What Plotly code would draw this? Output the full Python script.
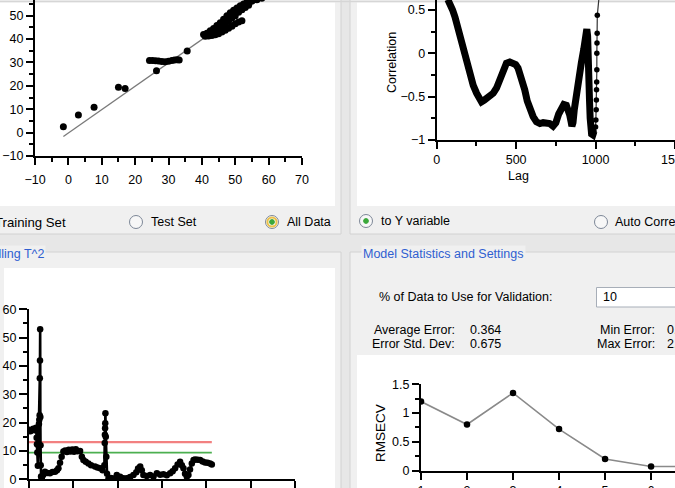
import plotly.graph_objects as go

W, H = 675, 488

# ---------------- data ----------------
# Top-left: predicted vs measured
tl_x = [-1.5, 3.0, 7.7, 15.0, 17.0,
        24.3, 25.2, 26.1, 27.0, 28.0, 29.0, 30.0, 31.0, 31.8, 32.6, 33.2,
        26.4, 35.6,
        40.5, 41.5, 42.5, 43.5, 44.5, 45.5, 46.5, 47.5, 48.5, 49.5, 50.5, 51.5, 52.5, 53.5, 55.0, 56.5, 58.0,
        41.0, 42.0, 43.0, 44.0, 45.0, 46.0, 47.0, 48.0, 49.0, 50.0, 51.0, 52.0,
        43.0, 44.0, 45.0, 46.0, 47.0, 48.0, 49.0, 50.0, 51.0, 52.0, 53.0, 54.0]
tl_y = [2.5, 7.5, 10.8, 19.4, 18.9,
        30.8, 30.8, 30.7, 30.6, 30.4, 30.3, 30.5, 30.8, 31.0, 31.2, 31.0,
        26.5, 34.9,
        42.0, 42.5, 43.5, 44.5, 45.8, 47.0, 48.5, 50.0, 51.2, 52.3, 53.3, 54.2, 55.0, 55.7, 56.3, 56.8, 57.5,
        41.2, 41.3, 41.5, 41.8, 42.3, 43.0, 43.8, 44.6, 45.5, 46.5, 47.3, 47.8,
        43.0, 43.5, 44.5, 45.5, 46.5, 47.5, 49.0, 50.0, 51.5, 52.5, 53.5, 54.5]
fit_x = [-1.5, 62.0]
fit_y = [-1.7, 61.8]

# Top-right: correlation vs lag
cc_lag = [70, 83, 100, 115, 130, 146, 162, 178, 194, 209, 230, 251, 266, 282, 300, 318, 335,
          356, 377, 392, 408, 424, 439, 460, 481, 497, 512, 533, 554, 570, 586, 607, 628, 650,
          670, 690, 711, 732, 750, 768, 785, 800, 816, 830, 837, 845, 851, 858, 866, 879, 895,
          910, 926, 937, 945, 950, 951, 950, 955, 958, 962, 966, 970, 975, 983, 990]
cc_val = [0.62, 0.577, 0.50, 0.42, 0.31, 0.19, 0.07, -0.04, -0.16, -0.27, -0.37, -0.46, -0.52,
          -0.56, -0.54, -0.51, -0.50, -0.46, -0.40, -0.32, -0.23, -0.16, -0.115, -0.10, -0.115,
          -0.13, -0.17, -0.28, -0.42, -0.55, -0.65, -0.73, -0.79, -0.81, -0.80, -0.80, -0.81,
          -0.84, -0.80, -0.70, -0.62, -0.59, -0.60, -0.66, -0.71, -0.78, -0.84, -0.80, -0.65,
          -0.46, -0.28, -0.115, 0.05, 0.20, 0.28, 0.20, 0.0, -0.20, -0.22, -0.35, -0.55, -0.75,
          -0.88, -0.93, -0.94, -0.90]
tail_lag = [990, 1000, 1002, 1004, 1005, 1006, 1007, 1008, 1008, 1009, 1010, 1011, 1022]
tail_val = [-0.90, -0.85, -0.77, -0.65, -0.54, -0.42, -0.33, -0.19, 0.0, 0.12, 0.23, 0.44, 0.65]

# Bottom-left: Hotelling T^2
t2_x = [0, 8, 16, 24, 32, 40, 43, 45, 47, 50, 53, 56, 58, 60, 61, 62, 63, 64, 65, 66, 68,
        72, 80, 90, 104, 118, 132, 147, 158, 166, 175, 184, 194, 204, 214, 224, 234, 244, 254,
        264, 274, 288, 298, 307, 320, 335, 350, 372, 386, 401, 415, 425, 427, 428, 429, 430, 431,
        433, 436, 440, 448, 462, 476, 495, 505, 514, 532, 551, 570, 589, 605, 615, 627, 636, 645,
        664, 683, 702, 721, 740, 758, 777, 796, 810, 824, 838, 852, 862, 871, 880, 890, 899, 908,
        918, 928, 937, 951, 965, 979, 993, 1007, 1021, 1031]
t2_y = [17.5, 17.0, 17.4, 17.8, 17.3, 18.2, 14.7, 12.4, 9.5, 4.8, 12.0, 19.5, 21.0, 22.6, 35.7,
        41.9, 53.0, 22.0, 12.0, 5.0, 1.0,
        0.3, 1.5, 2.7, 2.2, 2.1, 2.6, 2.7, 3.2, 3.9, 5.8, 8.0, 9.8, 10.2, 9.6, 10.4, 9.8, 10.5,
        9.7, 10.6, 9.9, 10.0, 8.0, 6.8, 6.2, 5.6, 5.0, 4.5, 4.2, 3.9, 3.2, 5.0, 12.8, 15.7, 18.0,
        19.8, 23.3, 15.0, 8.0, 2.0, 0.2, 0.5, 0.3, 1.5, 0.6, 0.9, 0.4, 0.35, 0.8, 1.5, 2.5, 3.8,
        4.5, 3.2, 1.5, 1.2, 1.5, 1.0, 2.1, 1.6, 1.8, 1.4, 2.1, 2.8, 3.9, 5.2, 6.2, 5.0, 3.9, 2.0,
        0.9, 1.5, 3.5, 5.6, 6.8, 7.0, 6.9, 6.8, 6.3, 5.9, 5.8, 5.6, 5.2]
lim_x = [0, 1031]
lim_red = [13.1, 13.1]
lim_green = [9.4, 9.4]

# Bottom-right: RMSECV vs components
pc_n = [1, 2, 3, 4, 5, 6, 7]
rmsecv = [1.2, 0.8, 1.35, 0.72, 0.2, 0.07, 0.07]

# ---------------- helpers ----------------
def X(p):
    return p / W


def Y(p):
    return 1 - p / H


FONT = "Liberation Sans"
BG = "#e7e7e7"
FRAME_FILL = "#f0f0f0"
FRAME_LINE = "#d2d2d2"
BLUE = "#2f5fd0"

shapes = []


def rect(x0, y0, x1, y1, fill, line=None, lw=1):
    shapes.append(dict(type="rect", xref="paper", yref="paper",
                       x0=X(x0), x1=X(x1), y0=Y(y1), y1=Y(y0),
                       fillcolor=fill, line=dict(color=line or fill, width=lw if line else 0),
                       layer="below"))


def circle(cx, cy, r, fill, line, lw=1):
    shapes.append(dict(type="circle", xref="paper", yref="paper",
                       x0=X(cx - r), x1=X(cx + r), y0=Y(cy + r), y1=Y(cy - r),
                       fillcolor=fill, line=dict(color=line, width=lw), layer="above"))


# frames
rect(-5, -5, 341, 234, FRAME_FILL, FRAME_LINE)
rect(350, -5, 680, 234, FRAME_FILL, FRAME_LINE)
rect(-5, 252, 341, 495, FRAME_FILL, FRAME_LINE)
rect(350, 252, 680, 495, FRAME_FILL, FRAME_LINE)
# white plot panels
rect(0, 2.5, 335, 206, "white")
rect(357, 2.5, 675, 206, "white")
rect(4, 268, 335, 488, "white")
rect(357, 355, 675, 488, "white")
# top border line
shapes.append(dict(type="line", xref="paper", yref="paper", x0=0, x1=1, y0=Y(1.5), y1=Y(1.5),
                   line=dict(color="#d6d6d6", width=1.5), layer="below"))
# text box
rect(596.5, 287.5, 690, 307, "white", "#a7aeb8", 1)

# radio buttons
RING = "#7d8797"
for cx in (136, 601):
    circle(cx, 222, 6.5, "#f7f7f7", RING)
circle(272, 222, 6.5, "#f7f7f7", RING)
circle(272, 222, 4.6, "rgba(0,0,0,0)", "#ecc24a", 2)
circle(272, 222, 2.4, "#3aa83a", "#3aa83a")
circle(366, 221, 6.5, "#f7f7f7", RING)
circle(366, 221, 2.4, "#3aa83a", "#3aa83a")

# ---------------- traces ----------------
fig = go.Figure()
fig.add_trace(go.Scatter(x=fit_x, y=fit_y, mode="lines", line=dict(color="#7a7a7a", width=1.3),
                         xaxis="x", yaxis="y", hoverinfo="skip"))
fig.add_trace(go.Scatter(x=tl_x, y=tl_y, mode="markers", marker=dict(color="black", size=7),
                         xaxis="x", yaxis="y"))

fig.add_trace(go.Scatter(x=cc_lag, y=cc_val, mode="lines",
                         line=dict(color="black", width=7), xaxis="x2", yaxis="y2"))
fig.add_trace(go.Scatter(x=tail_lag, y=tail_val, mode="lines+markers",
                         line=dict(color="#333", width=1.2), marker=dict(color="black", size=5.5),
                         xaxis="x2", yaxis="y2"))

fig.add_trace(go.Scatter(x=lim_x, y=lim_red, mode="lines", line=dict(color="#f28080", width=2.2),
                         xaxis="x3", yaxis="y3"))
fig.add_trace(go.Scatter(x=lim_x, y=lim_green, mode="lines", line=dict(color="#4caf50", width=1.6),
                         xaxis="x3", yaxis="y3"))
fig.add_trace(go.Scatter(x=t2_x, y=t2_y, mode="lines+markers",
                         line=dict(color="black", width=2.6), marker=dict(color="black", size=6.5),
                         xaxis="x3", yaxis="y3"))

fig.add_trace(go.Scatter(x=pc_n, y=rmsecv, mode="lines+markers",
                         line=dict(color="#8a8a8a", width=1.6), marker=dict(color="black", size=6.5),
                         xaxis="x4", yaxis="y4"))

# ---------------- axes ----------------
TICKFONT = dict(family=FONT, size=12.5, color="black")


def ax(domain, rng, dtick, minor_dtick, anchor, tick0=0, ticklen=7):
    d = dict(domain=domain, range=rng, dtick=dtick, tick0=tick0, anchor=anchor,
             showline=True, linecolor="black", linewidth=2, ticks="outside", ticklen=ticklen,
             tickwidth=1.6, tickcolor="black", showgrid=False, zeroline=False,
             tickfont=TICKFONT, fixedrange=True, automargin=False)
    if minor_dtick:
        d["minor"] = dict(dtick=minor_dtick, ticks="outside", ticklen=4, tickwidth=1.6,
                          tickcolor="black", showgrid=False)
    return d


layout = dict(
    width=W, height=H, margin=dict(l=0, r=0, t=0, b=0, autoexpand=False), autosize=False,
    paper_bgcolor=BG, plot_bgcolor="rgba(0,0,0,0)", showlegend=False,
    xaxis=ax([X(35), X(302)], [-10, 70], 10, 5, "y"),
    yaxis=ax([Y(156), 1], [-10, 56.7], 10, 5, "x"),
    xaxis2=ax([X(436.7), 1], [0, 1500], 500, 250, "y2"),
    yaxis2=ax([Y(140), 1], [-1, 0.615], 0.5, 0.25, "x2"),
    xaxis3=ax([X(29), X(295)], [0, 1500], 250, None, "y3"),
    yaxis3=ax([Y(479.3), Y(309.3)], [0, 60], 10, 5, "x3", ticklen=8),
    xaxis4=ax([X(421), 1], [1, 6.52], 1, None, "y4", tick0=1),
    yaxis4=ax([Y(470.5), Y(384.3)], [0, 1.5], 0.5, 0.25, "x4", ticklen=7),
    shapes=shapes,
)
layout["xaxis"]["ticklabelstandoff"] = 4
layout["xaxis2"]["ticklabeloverflow"] = "allow"
layout["xaxis3"]["showticklabels"] = False
fig.update_layout(**layout)


def text(s, x, y, anchor="left", size=12.5, color="black", angle=0, bg=None):
    a = dict(text=s, x=X(x), y=Y(y), xref="paper", yref="paper", showarrow=False,
             xanchor=anchor, yanchor="middle", textangle=angle,
             font=dict(family=FONT, size=size, color=color))
    if bg:
        a["bgcolor"] = bg
    fig.add_annotation(**a)


text("Training Set", 68, 222, "right", size=13.2)
text("Test Set", 148.5, 222)
text("All Data", 284.5, 222)
text("to Y variable", 379, 221)
text("Auto Correlation", 613, 222)
text("Hotelling T^2", 46, 254.5, "right", color=BLUE, bg=FRAME_FILL)
text("Model Statistics and Settings", 361, 254.5, color=BLUE, bg=FRAME_FILL)
text("% of Data to Use for Validation:", 376.5, 297)
text("10", 601, 297)
text("Average Error:", 371.5, 330)
text("0.364", 468, 330)
text("Error Std. Dev:", 370, 344)
text("0.675", 468, 344)
text("Min Error:", 657, 330, "right")
text("0.001", 665, 330)
text("Max Error:", 657, 344, "right")
text("2.466", 665, 344)
text("Correlation", 392, 63, "center", angle=-90)
text("Lag", 518, 176, "center")
text("RMSECV", 380, 433, "center", size=13.5, angle=-90)

fig.write_html(
    "out.html",
    config={"displayModeBar": False},
    post_script="document.body.style.margin='0';document.body.style.overflow='hidden';",
)
